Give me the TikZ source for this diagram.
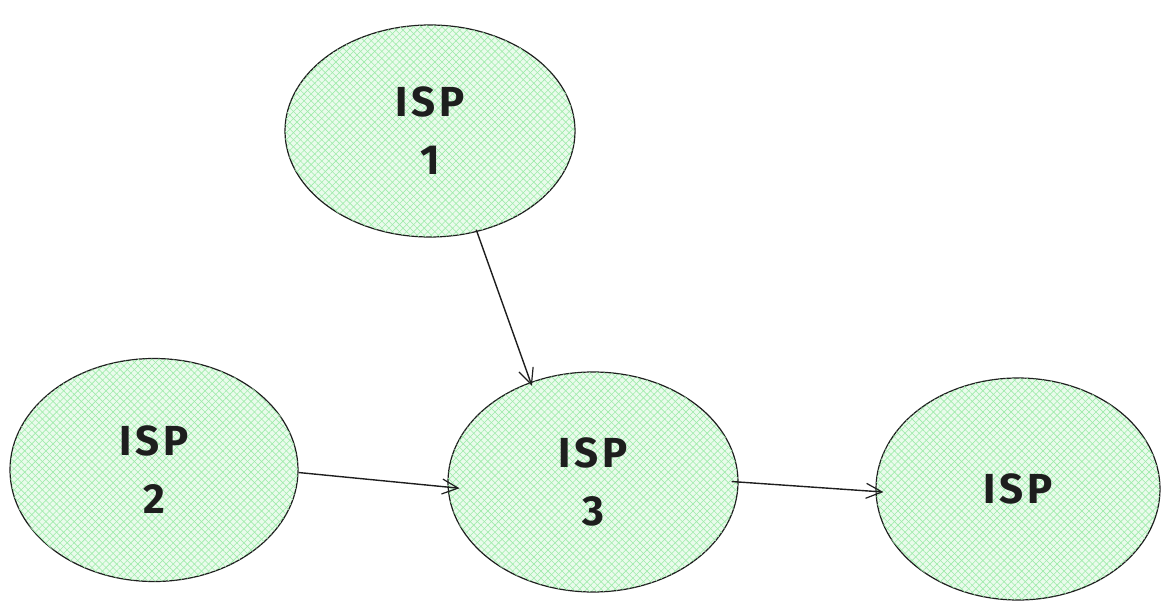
\documentclass[tikz,border=0pt]{standalone}
\usepackage{fontspec}
\setmainfont{Fira Sans}[LetterSpace=9]
\usetikzlibrary{shapes.geometric,arrows.meta,patterns.meta}
\definecolor{ink}{HTML}{1E1E1E}
\definecolor{hatch}{HTML}{9EEBAA}
\definecolor{paleg}{HTML}{EAFBEC}
\tikzset{
  isp/.style={ellipse, draw=ink, line width=1.2pt, inner sep=0pt,
    align=center, text=ink, font=\fontsize{42}{58}\selectfont\bfseries,
    preaction={fill=paleg},
    pattern={Lines[angle=45,distance=5pt,line width=0.6pt]}, pattern color=hatch,
    postaction={pattern={Lines[angle=-45,distance=5pt,line width=0.6pt]}, pattern color=hatch}},
  conn/.style={draw=ink, line width=1.4pt, -{Straight Barb[length=16pt,width=15pt,line width=1.2pt]}}
}
\begin{document}
\begin{tikzpicture}[x=1pt,y=-1pt]
\useasboundingbox (0,0) rectangle (1173,610);
\node[isp, minimum width=290pt, minimum height=212pt] (isp1) at (430,131) {ISP\\1};
\node[isp, minimum width=288pt, minimum height=223pt] (isp2) at (154,470) {ISP\\2};
\node[isp, minimum width=290pt, minimum height=220pt] (isp3) at (593,482) {ISP\\3};
\node[isp, minimum width=284pt, minimum height=222pt] (isp4) at (1018,489) {ISP};
\draw[conn, shorten <=-2pt, shorten >=-4pt] (isp1.-65) -- (isp3.122);
\draw[conn, shorten >=-12pt] (isp2.-1) -- (isp3.182.6);
\draw[conn, shorten <=-7pt, shorten >=-8pt] (isp3.-0.5) -- (isp4.181.7);
\end{tikzpicture}
\end{document}
